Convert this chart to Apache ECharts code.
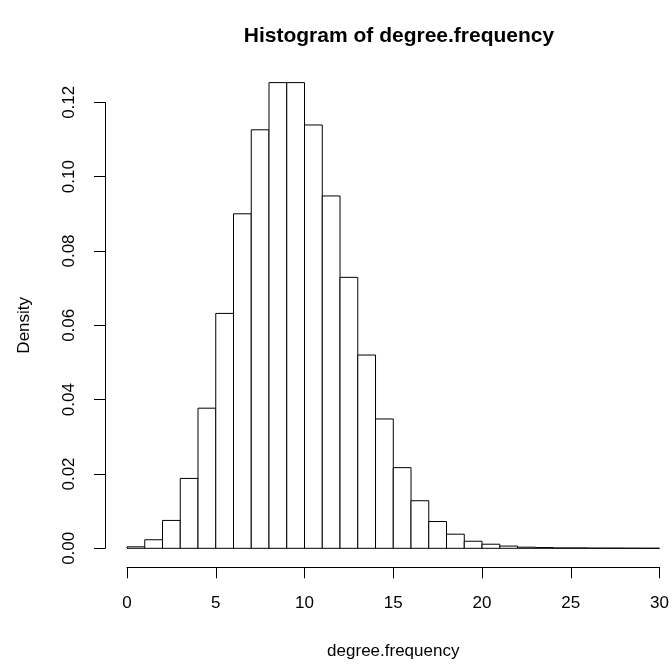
<!DOCTYPE html>
<html>
<head>
<meta charset="utf-8">
<script src="https://cdn.jsdelivr.net/npm/echarts@6/dist/echarts.min.js"></script>
<style>
  html, body { margin: 0; padding: 0; background: #fff; }
  #main { width: 672px; height: 666px; }
</style>
</head>
<body>
<div id="main"></div>
<script>
  // histogram breaks (bin edges) and the density of each bin
  var breaks = [0, 1, 2, 3, 4, 5, 6, 7, 8, 9, 10, 11, 12, 13, 14, 15,
    16, 17, 18, 19, 20, 21, 22, 23, 24, 25, 26, 27, 28, 29, 30];
  var density = [0.0004, 0.0023, 0.0075, 0.0188, 0.0377, 0.0632, 0.0900, 0.1126,
    0.1253, 0.1253, 0.1139, 0.0948, 0.0729, 0.0520, 0.0348, 0.0217, 0.0128,
    0.0072, 0.0038, 0.0019, 0.0011, 0.0006, 0.0003, 0.0002, 0.0001, 0.0001,
    0.00005, 0.00005, 0.00002, 0.00001];
  var xTicks = [0, 5, 10, 15, 20, 25, 30];
  var yTicks = [0, 0.02, 0.04, 0.06, 0.08, 0.10, 0.12];

  var chartTitle = 'Histogram of degree.frequency';
  var xName = 'degree.frequency';
  var yName = 'Density';

  var font = 'Liberation Sans, Arial, Helvetica, sans-serif';

  var bins = density.map(function (d, i) {
    return [breaks[i], breaks[i + 1], d];
  });

  var myChart = echarts.init(document.getElementById('main'), null, { renderer: 'canvas' });

  var option = {
    backgroundColor: '#fff',
    animation: false,
    title: {
      text: chartTitle,
      left: 394,
      top: 21,
      textAlign: 'center',
      textStyle: { fontFamily: font, fontSize: 21, fontWeight: 'bold', color: '#000' }
    },
    grid: { left: 127, right: 12, top: 102.3, bottom: 117.7, containLabel: false },
    xAxis: {
      type: 'value',
      min: xTicks[0],
      max: xTicks[xTicks.length - 1],
      interval: 5,
      offset: 19,
      name: xName,
      nameLocation: 'middle',
      nameGap: 76,
      nameTextStyle: { fontFamily: font, fontSize: 17, color: '#000' },
      axisLine: { onZero: false, lineStyle: { color: '#000', width: 1 } },
      axisTick: { length: 11, lineStyle: { color: '#000' } },
      axisLabel: { margin: 28, fontFamily: font, fontSize: 17, color: '#000' },
      splitLine: { show: false }
    },
    yAxis: {
      type: 'value',
      min: yTicks[0],
      max: yTicks[yTicks.length - 1],
      interval: 0.02,
      offset: 22,
      name: yName,
      nameLocation: 'middle',
      nameGap: 72,
      nameTextStyle: { fontFamily: font, fontSize: 17, color: '#000' },
      axisLine: { show: true, onZero: false, lineStyle: { color: '#000', width: 1 } },
      axisTick: { show: true, length: 11, lineStyle: { color: '#000' } },
      axisLabel: {
        rotate: 90,
        margin: 27,
        fontFamily: font,
        fontSize: 17,
        color: '#000',
        formatter: function (v) { return v.toFixed(2); }
      },
      splitLine: { show: false }
    },
    series: [
      {
        type: 'custom',
        clip: false,
        data: bins,
        encode: { x: [0, 1], y: 2 },
        renderItem: function (params, api) {
          var p0 = api.coord([api.value(0), 0]);
          var p1 = api.coord([api.value(1), api.value(2)]);
          return {
            type: 'rect',
            shape: { x: p0[0], y: p1[1], width: p1[0] - p0[0], height: p0[1] - p1[1] },
            style: { fill: '#fff', stroke: '#000', lineWidth: 1 }
          };
        }
      }
    ]
  };

  myChart.setOption(option);
</script>
</body>
</html>
